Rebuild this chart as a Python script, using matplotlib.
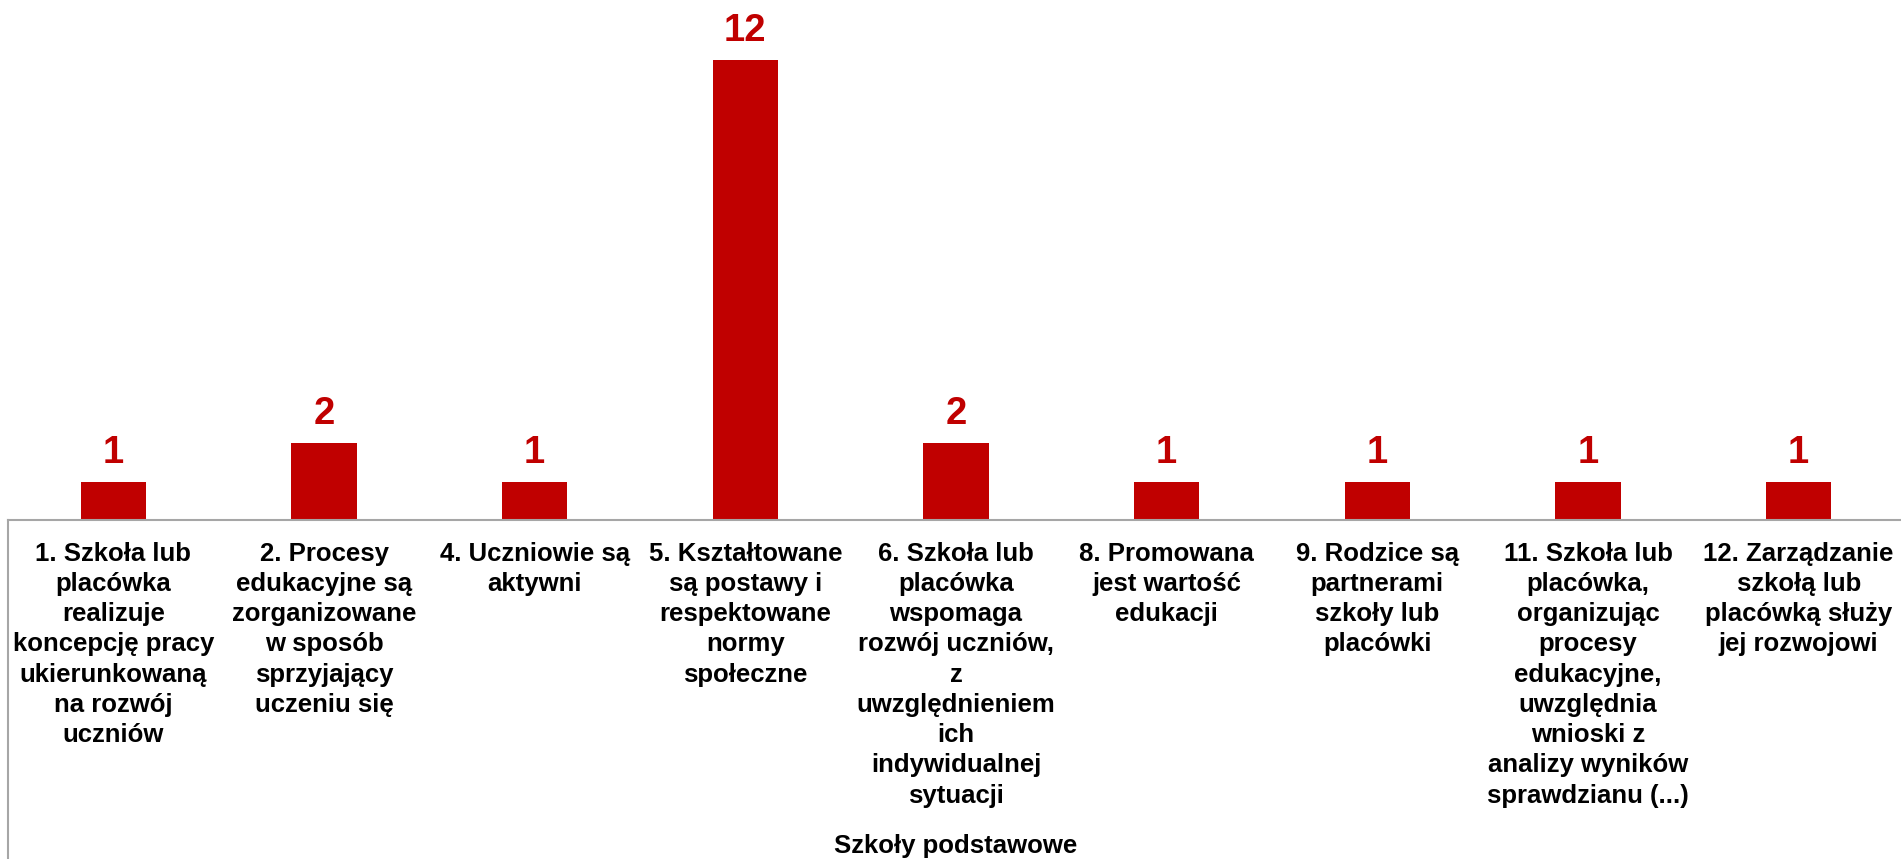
import numpy as np
import matplotlib.pyplot as plt

plt.rcParams['font.family'] = ['Liberation Sans', 'DejaVu Sans']
plt.rcParams['font.weight'] = 'bold'

# data
categories = [
    "1. Szkoła lub\nplacówka\nrealizuje\nkoncepcję pracy\nukierunkowaną\nna rozwój\nuczniów",
    "2. Procesy\nedukacyjne są\nzorganizowane\nw sposób\nsprzyjający\nuczeniu się",
    "4. Uczniowie są\naktywni",
    "5. Kształtowane\nsą postawy i\nrespektowane\nnormy\nspołeczne",
    "6. Szkoła lub\nplacówka\nwspomaga\nrozwój uczniów,\nz\nuwzględnieniem\nich\nindywidualnej\nsytuacji",
    "8. Promowana\njest wartość\nedukacji",
    "9. Rodzice są\npartnerami\nszkoły lub\nplacówki",
    "11. Szkoła lub\nplacówka,\norganizując\nprocesy\nedukacyjne,\nuwzględnia\nwnioski z\nanalizy wyników\nsprawdzianu (...)",
    "12. Zarządzanie\nszkołą lub\nplacówką służy\njej rozwojowi",
]
values = [1, 2, 1, 12, 2, 1, 1, 1, 1]
group_label = "Szkoły podstawowe"

red = "#C00000"
grey = "#A6A6A6"

fig = plt.figure(figsize=(19.01, 8.59), dpi=100)
ax = fig.add_axes([8 / 1901, 339 / 859, 1896 / 1901, 517 / 859])

x = np.arange(len(values))
bars = ax.bar(x, values, width=0.31, color=red)
ax.bar_label(bars, padding=8, color=red, fontsize=27.5, fontweight='bold')

ax.set_xlim(-0.5, len(values) - 0.5)
ax.set_ylim(0, 13.5)
ax.set_xticks(x)
ax.set_xticklabels(categories, fontsize=18.5, fontweight='bold', linespacing=1.33)
ax.tick_params(axis='x', length=0, pad=15.5)
ax.set_yticks([])

for s in ['top', 'right', 'left']:
    ax.spines[s].set_visible(False)
ax.spines['bottom'].set_color(grey)
ax.spines['bottom'].set_linewidth(1.5)

# left border of the category area
ax.plot([0, 0], [0, -1], transform=ax.transAxes, color=grey, lw=1.5, clip_on=False)

ax.set_xlabel(group_label, fontsize=18.5, fontweight='bold')
ax.xaxis.set_label_coords(0.5, -0.644)
ax.xaxis.label.set_va('baseline')

fig.savefig("out.png", dpi=100)
